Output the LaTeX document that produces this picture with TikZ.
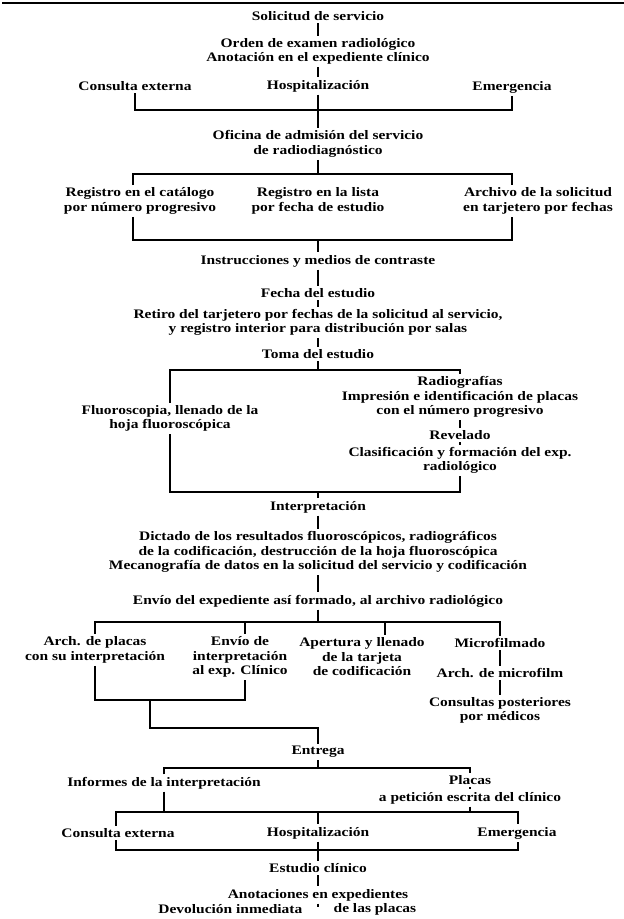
\documentclass[tikz,border=0pt]{standalone}
\usepackage{fontspec}
\newfontfamily\dfont[FakeStretch=1.19]{Liberation Serif}
\begin{document}
\begin{tikzpicture}[x=1pt,y=-1pt,line width=1.3pt,
  lbl/.style={inner sep=2pt,align=center,font=\dfont\bfseries\fontsize{13}{14.5}\selectfont}]
\useasboundingbox (0,0) rectangle (624,919);
\draw[line width=2.4pt] (2,3) -- (624,3);
% nodes
\node[lbl] (s1) at (318,16) {Solicitud de servicio};
\node[lbl] (s2) at (318,51.5) {Orden de examen radiológico\\Anotación en el expediente clínico};
\node[lbl] (ce1) at (135,86) {Consulta externa};
\node[lbl] (ho1) at (318,86) {Hospitalización};
\node[lbl] (em1) at (512,87) {Emergencia};
\node[lbl] (ofi) at (318,144) {Oficina de admisión del servicio\\de radiodiagnóstico};
\node[lbl] (r1) at (140,201) {Registro en el catálogo\\por número progresivo};
\node[lbl] (r2) at (318,201) {Registro en la lista\\por fecha de estudio};
\node[lbl] (r3) at (538,201) {Archivo de la solicitud\\en tarjetero por fechas};
\node[lbl] (ins) at (318,261) {Instrucciones y medios de contraste};
\node[lbl] (fec) at (318,293) {Fecha del estudio};
\node[lbl] (ret) at (318,322.5) {Retiro del tarjetero por fechas de la solicitud al servicio,\\y registro interior para distribución por salas};
\node[lbl] (tom) at (318,354) {Toma del estudio};
\node[lbl] (flu) at (170,418.5) {Fluoroscopia, llenado de la\\hoja fluoroscópica};
\node[lbl] (rad) at (460,397) {Radiografías\\Impresión e identificación de placas\\con el número progresivo};
\node[lbl] (rev) at (460,435) {Revelado};
\node[lbl] (cla) at (460,460.5) {Clasificación y formación del exp.\\radiológico};
\node[lbl] (int) at (318,507) {Interpretación};
\node[lbl] (dic) at (318,552) {Dictado de los resultados fluoroscópicos, radiográficos\\de la codificación, destrucción de la hoja fluoroscópica\\Mecanografía de datos en la solicitud del servicio y codificación};
\node[lbl] (env) at (318,601) {Envío del expediente así formado, al archivo radiológico};
\node[lbl] (c1) at (95,650) {Arch. de placas\\con su interpretación};
\node[lbl] (c2) at (240,657) {Envío de\\interpretación\\al exp. Clínico};
\node[lbl] (c3) at (362,657) {Apertura y llenado\\de la tarjeta\\de codificación};
\node[lbl] (c4) at (500,643) {Microfilmado};
\node[lbl] (c4b) at (500,673) {Arch. de microfilm};
\node[lbl] (c4c) at (500,710.5) {Consultas posteriores\\por médicos};
\node[lbl] (ent) at (318,752) {Entrega};
\node[lbl] (inf) at (164,783) {Informes de la interpretación};
\node[lbl] (pla) at (470,780) {Placas};
\node[lbl] (pet) at (470,798) {a petición escrita del clínico};
\node[lbl] (ce2) at (118,833) {Consulta externa};
\node[lbl] (ho2) at (318,833) {Hospitalización};
\node[lbl] (em2) at (517,833) {Emergencia};
\node[lbl] (est) at (318,868) {Estudio clínico};
\node[lbl] (ano) at (318,895) {Anotaciones en expedientes};
\node[lbl,anchor=east] (dev) at (305,909) {Devolución inmediata};
\node[lbl,anchor=west] (dlp) at (331,909) {de las placas};
\coordinate (tick) at (318,907);
% coordinates
\coordinate (b1) at (318,110);
\coordinate (b2l) at (133,174); \coordinate (b2r) at (512,174);
\coordinate (b3l) at (133,240); \coordinate (b3r) at (512,240);
\coordinate (t1l) at (170,370); \coordinate (t1r) at (460,370);
\coordinate (t2l) at (170,492); \coordinate (t2r) at (460,492);
\coordinate (k1) at (95,622); \coordinate (k2) at (245,622);
\coordinate (k3) at (385,622); \coordinate (k4) at (500,622);
\coordinate (m1) at (95,700); \coordinate (m2) at (245,700);
\coordinate (m3) at (150,700); \coordinate (m4) at (150,728);
\coordinate (e1) at (164,768); \coordinate (e2) at (470,768);
\coordinate (f1) at (116,812); \coordinate (f2) at (518,812);
\coordinate (g1) at (116,850); \coordinate (g2) at (518,850);
% connectors
\draw (s1) -- (s2);
\draw (s2) -- (ho1);
\draw (ce1.south) -- (ce1.south |- b1) -- (em1.south |- b1) -- (em1.south);
\draw (ho1) -- (ofi);
\draw (ofi.south) -- (ofi.south |- b2l);
\draw (b2l |- r1.north) -- (b2l) -- (b2r) -- (b2r |- r3.north);
\draw (b3l |- r1.south) -- (b3l) -- (b3r) -- (b3r |- r3.south);
\draw (ins.north |- b3l) -- (ins.north);
\draw (ins) -- (fec);
\draw (fec) -- (ret);
\draw (ret) -- (tom);
\draw (tom.south) -- (tom.south |- t1l);
\draw (t1l |- flu.north) -- (t1l) -- (t1r) -- (t1r |- rad.north);
\draw (rad) -- (rev);
\draw (rev) -- (cla);
\draw (t2l |- flu.south) -- (t2l) -- (t2r) -- (t2r |- cla.south);
\draw (int.north |- t2l) -- (int.north);
\draw (int) -- (dic);
\draw (dic) -- (env);
\draw (env.south) -- (env.south |- k1);
\draw (k1 |- c1.north) -- (k1) -- (k4) -- (k4 |- c4.north);
\draw (k2) -- (k2 |- c2.north);
\draw (k3) -- (k3 |- c3.north);
\draw (c4) -- (c4b);
\draw (c4b) -- (c4c);
\draw (c1.south) -- (m1) -- (m2) -- (m2 |- c2.south);
\draw (m3) -- (m4) -- (ent.north |- m4) -- (ent.north);
\draw (ent.south) -- (ent.south |- e1);
\draw (inf.north) -- (inf.north |- e1) -- (e2) -- (pla.north);
\draw (pla) -- (pet);
\draw (inf.south) -- (inf.south |- f1);
\draw (pet.south) -- (pet.south |- f1);
\draw (f1 |- ce2.north) -- (f1) -- (f2) -- (f2 |- em2.north);
\draw (ho2.north |- f1) -- (ho2.north);
\draw (g1 |- ce2.south) -- (g1) -- (g2) -- (g2 |- em2.south);
\draw (ho2) -- (est);
\draw (est) -- (ano);
\draw (ano.south) -- (tick);
\end{tikzpicture}
\end{document}
